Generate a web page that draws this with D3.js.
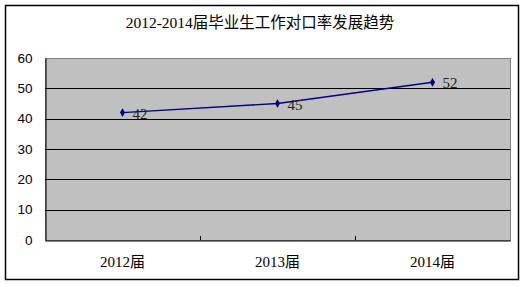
<!DOCTYPE html>
<html>
<head>
<meta charset="utf-8">
<script src="https://cdn.jsdelivr.net/npm/d3@7"></script>
<style>
  body { margin: 0; background: #fff; }
  svg text { fill: #000; }
</style>
</head>
<body>
<svg width="526" height="287"></svg>
<script>
// chart data
var chartTitle = "2012-2014届毕业生工作对口率发展趋势";
var categories = ["2012届", "2013届", "2014届"];
var values = [42, 45, 52];
var yTicks = [0, 10, 20, 30, 40, 50, 60];

var svg = d3.select("svg");
var serif = "'SimSun', 'Liberation Serif', 'Noto Sans CJK SC', serif";

// outer frame
svg.append("rect")
    .attr("x", 5.5).attr("y", 5.5)
    .attr("width", 513).attr("height", 274)
    .attr("fill", "#fff")
    .attr("stroke", "#000")
    .attr("stroke-width", 1.5);

svg.append("text")
    .attr("x", 260).attr("y", 28)
    .attr("text-anchor", "middle")
    .style("font-family", serif)
    .style("font-size", "15.5px")
    .text(chartTitle);

var plotLeft = 45, plotRight = 510, plotTop = 58, plotBottom = 240;

var x = d3.scaleBand().domain(categories).range([plotLeft, plotRight]);
var y = d3.scaleLinear().domain([0, 60]).range([plotBottom, plotTop]);

// plot background
svg.append("rect")
    .attr("x", plotLeft + 0.5).attr("y", plotTop + 0.5)
    .attr("width", plotRight - plotLeft).attr("height", plotBottom - plotTop)
    .attr("fill", "#c0c0c0")
    .attr("stroke", "#808080");

// grid lines
svg.append("g")
  .selectAll("line")
  .data(yTicks.filter(function(d) { return d > 0 && d < 60; }))
  .enter().append("line")
    .attr("x1", plotLeft).attr("x2", plotRight)
    .attr("y1", function(d) { return Math.round(y(d)) + 0.5; })
    .attr("y2", function(d) { return Math.round(y(d)) + 0.5; })
    .attr("stroke", "#000");

// y axis
var yAxis = svg.append("g")
    .attr("transform", "translate(" + (plotLeft + 0.5) + ",0)")
    .call(d3.axisLeft(y).tickValues(yTicks).tickSize(0).tickPadding(13));
yAxis.select(".domain").attr("stroke", "#000");
yAxis.selectAll("text")
    .style("font-family", "Arial, 'Liberation Sans', sans-serif")
    .style("font-size", "13.5px");

// x axis
var xAxis = svg.append("g")
    .attr("transform", "translate(0," + (plotBottom + 0.5) + ")")
    .call(d3.axisBottom(x).tickSize(0).tickPadding(16));
xAxis.select(".domain").attr("stroke", "#000");
xAxis.selectAll("text")
    .style("font-family", serif)
    .style("font-size", "15px");
svg.append("g")
  .selectAll("line")
  .data(categories.slice(1))
  .enter().append("line")
    .attr("x1", function(d) { return Math.round(x(d)) + 0.5; })
    .attr("x2", function(d) { return Math.round(x(d)) + 0.5; })
    .attr("y1", plotBottom - 4).attr("y2", plotBottom)
    .attr("stroke", "#000");

// line
var line = d3.line()
    .x(function(d, i) { return x(categories[i]) + x.bandwidth() / 2; })
    .y(function(d) { return y(d); });

svg.append("path")
    .datum(values)
    .attr("d", line)
    .attr("fill", "none")
    .attr("stroke", "#000080")
    .attr("stroke-width", 1.3);

svg.append("g")
  .selectAll("path")
  .data(values)
  .enter().append("path")
    .attr("d", d3.symbol().type(d3.symbolDiamond).size(22))
    .attr("transform", function(d, i) {
      return "translate(" + (x(categories[i]) + x.bandwidth() / 2) + "," + y(d) + ")";
    })
    .attr("fill", "#000080");

svg.append("g")
  .selectAll("text")
  .data(values)
  .enter().append("text")
    .attr("x", function(d, i) { return x(categories[i]) + x.bandwidth() / 2 + 10; })
    .attr("y", function(d) { return y(d) + 6; })
    .style("font-family", serif)
    .style("font-size", "15px")
    .style("fill", "#222")
    .text(function(d) { return d; });
</script>
</body>
</html>
